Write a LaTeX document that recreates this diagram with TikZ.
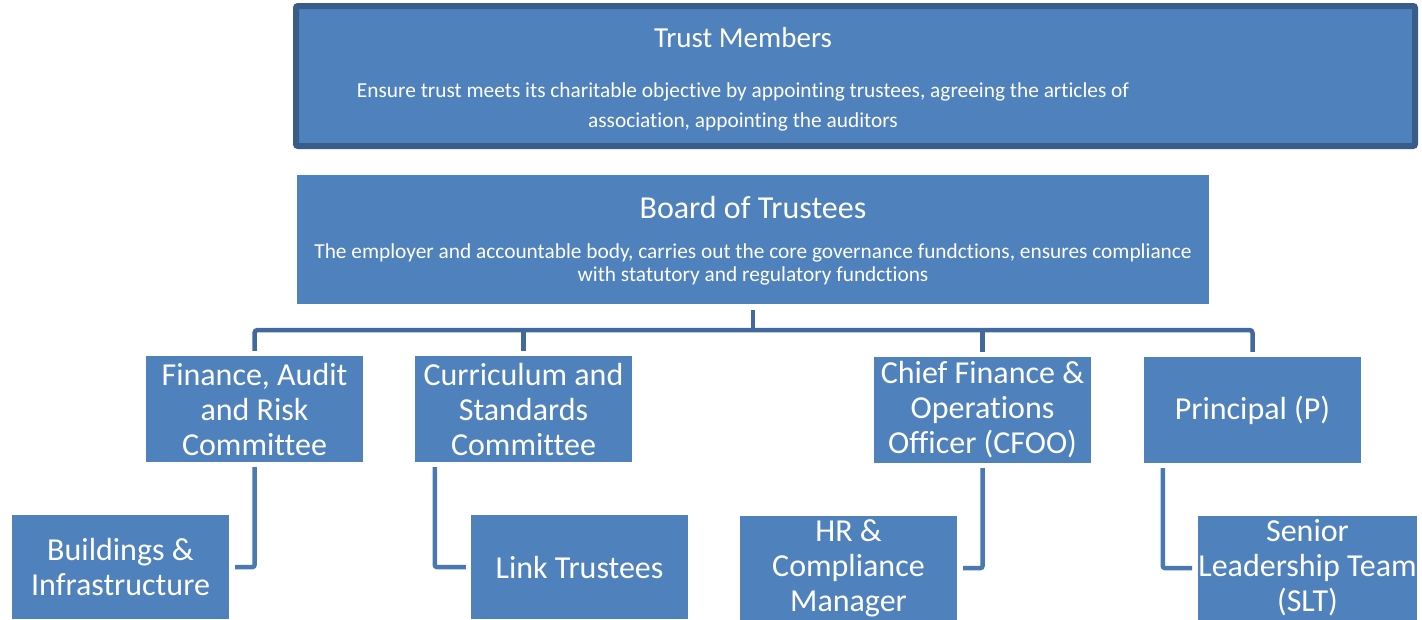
\documentclass[tikz,border=0pt]{standalone}
\usepackage{fontspec}
\setmainfont{Carlito}[Ligatures=NoCommon]
\usetikzlibrary{calc}
\definecolor{boxfill}{HTML}{4F81BD}
\definecolor{boxline}{HTML}{385D8A}
\definecolor{linkdark}{HTML}{41699B}
\definecolor{linklight}{HTML}{4A78B2}
\begin{document}
\begin{tikzpicture}[x=1pt,y=-1pt,
  orgbox/.style={fill=boxfill, draw=none, inner sep=0pt, text=white, align=center,
    font=\fontsize{32}{35}\selectfont, minimum width=217pt, minimum height=106pt},
  lowbox/.style={orgbox, minimum height=104pt},
  bigtitle/.style={anchor=base, text=white, inner sep=0pt},
  desc/.style={anchor=base, text=white, inner sep=0pt, font=\fontsize{21.35}{23}\selectfont},
  toplink/.style={draw=linkdark, line width=4.5pt},
  botlink/.style={draw=linklight, line width=4.5pt, rounded corners=2pt}]
\useasboundingbox (0,0) rectangle (1422,619);

% top box
\node[fill=boxfill, draw=boxline, line width=6pt, rounded corners=2pt,
  minimum width=1119pt, minimum height=140pt, inner sep=0pt] (tm) at (855.5,76) {};
\node[bigtitle, font=\fontsize{29}{35}\selectfont] (tmt) at (743,47) {Trust Members};
\node[desc] (tmd1) at (743,97) {Ensure trust meets its charitable objective by appointing trustees, agreeing the articles of};
\node[desc] (tmd2) at (743,127) {association, appointing the auditors};

% board
\node[fill=boxfill, inner sep=0pt, minimum width=912pt, minimum height=129pt] (board) at (753,239.5) {};
\node[bigtitle, font=\fontsize{32}{35}\selectfont] (bt) at (753,218) {Board of Trustees};
\node[desc] (bd1) at (753,258) {The employer and accountable body, carries out the core governance fundctions, ensures compliance};
\node[desc] (bd2) at (753,281) {with statutory and regulatory fundctions};

% level 2
\node[orgbox] (fin) at (254.5,409) {Finance, Audit\\and Risk\\Committee};
\node[orgbox] (cur) at (523.5,409) {Curriculum and\\Standards\\Committee};
\node[orgbox] (cfoo) at (982.5,410) {\raisebox{0pt}[0pt][0pt]{}Chief Finance \&\\Operations\\Officer (CFOO)};
\node[orgbox] (prin) at (1252.5,410) {Principal (P)};

% level 3
\node[lowbox] (bld) at (120.5,567) {Buildings \&\\Infrastructure};
\node[lowbox] (link) at (579.5,567) {Link Trustees};
\node[lowbox] (hr) at (848.5,568) {HR \&\\Compliance\\Manager};
\node[lowbox] (slt) at (1307.5,568) {Senior\\Leadership Team\\(SLT)};

% connectors board -> level 2
\coordinate (bus) at (753,330);
\draw[toplink] ([yshift=-6pt]board.south) -- (bus);
\draw[toplink, rounded corners=3pt] ([yshift=5pt]fin.north) |- (bus) -| ([yshift=5pt]prin.north);
\draw[toplink] ([yshift=5pt]cur.north) -- (cur.north |- bus);
\draw[toplink] ([yshift=5pt]cfoo.north) -- (cfoo.north |- bus);

% connectors level 2 -> level 3
\draw[botlink] ([yshift=-5pt]fin.south) |- ([xshift=6pt]bld.east);
\draw[botlink] ([xshift=20pt,yshift=-5pt]cur.south west) |- ([xshift=-5pt]link.west);
\draw[botlink] ([yshift=-5pt]cfoo.south) |- ([xshift=6pt]hr.east);
\draw[botlink] ([xshift=19pt,yshift=-5pt]prin.south west) |- ([xshift=-6pt]slt.west);
\end{tikzpicture}
\end{document}
